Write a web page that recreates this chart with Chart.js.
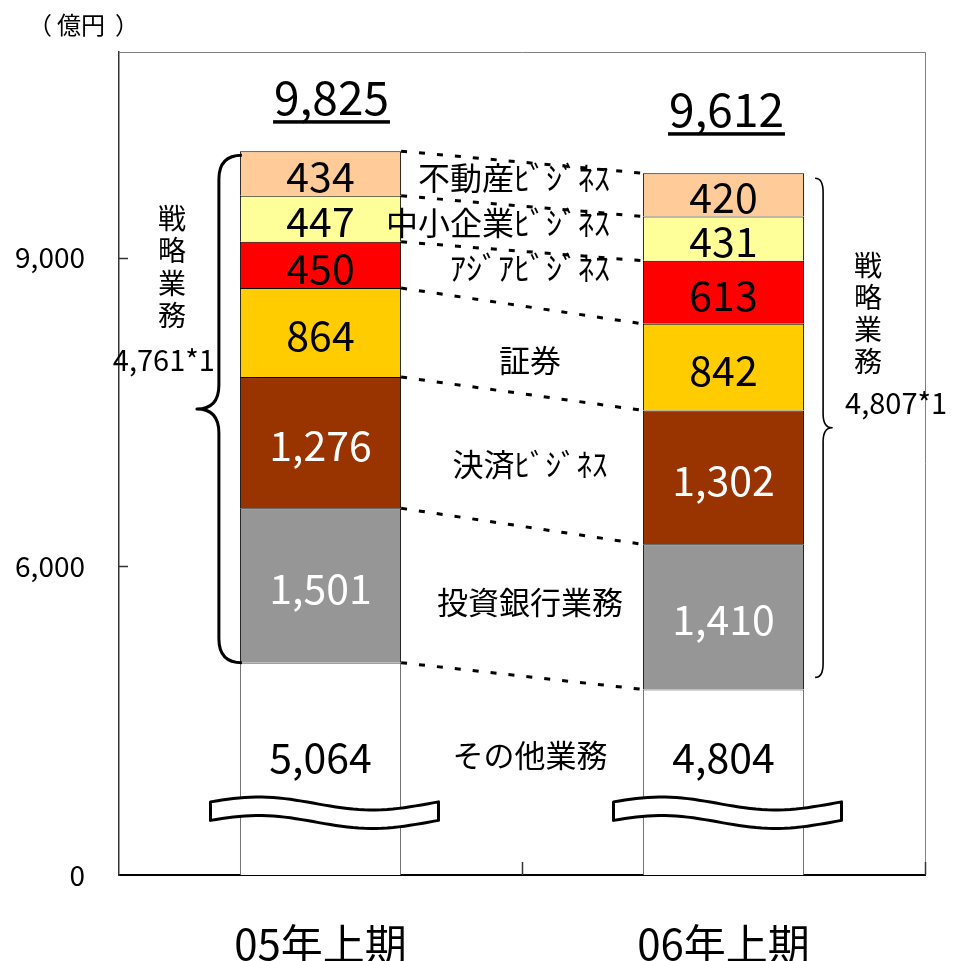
<!DOCTYPE html>
<html>
<head>
<meta charset="utf-8">
<script src="https://cdn.jsdelivr.net/npm/chart.js@4"></script>
<style>
  html, body { margin: 0; padding: 0; background: #fff; }
  #wrap { width: 956px; height: 961px; position: relative; }
</style>
</head>
<body>
<div id="wrap"><canvas id="segChart"></canvas></div>
<script>
const categories = ['05年上期', '06年上期'];
const seriesNames = ['その他業務', '投資銀行業務', '決済ﾋﾞｼﾞﾈｽ', '証券', 'ｱｼﾞｱﾋﾞｼﾞﾈｽ', '中小企業ﾋﾞｼﾞﾈｽ', '不動産ﾋﾞｼﾞﾈｽ'];
const otherBusiness = [5064, 4804];
const investmentBanking = [1501, 1410];
const settlementBusiness = [1276, 1302];
const securities = [864, 842];
const asiaBusiness = [450, 613];
const smeBusiness = [447, 431];
const realEstateBusiness = [434, 420];
const totalLabels = ['9,825', '9,612'];
const strategicLabels = ['4,761*1', '4,807*1'];
const strategicTitle = '戦略業務';
const unitLabel = '（億円）';
// axis is broken: the bottom tick stands for 0
const yTickValues = [3000, 6000, 9000];
const yTickLabels = ['0', '6,000', '9,000'];

const seriesColors = ['#ffffff', '#969696', '#993300', '#ffcc00', '#ff0000', '#ffff99', '#ffcc99'];
const whiteText = [false, true, true, false, false, false, false];
const FONT = "'Noto Sans CJK JP', 'Noto Sans', sans-serif";

const seriesValues = [otherBusiness, investmentBanking, settlementBusiness, securities,
  asiaBusiness, smeBusiness, realEstateBusiness];

function drawBrace(ctx, xEnd, xSpine, xTip, yTop, yBot, r) {
  const yMid = (yTop + yBot) / 2;
  ctx.beginPath();
  ctx.moveTo(xEnd, yTop);
  ctx.quadraticCurveTo(xSpine, yTop, xSpine, yTop + r);
  ctx.lineTo(xSpine, yMid - r);
  ctx.quadraticCurveTo(xSpine, yMid, xTip, yMid);
  ctx.quadraticCurveTo(xSpine, yMid, xSpine, yMid + r);
  ctx.lineTo(xSpine, yBot - r);
  ctx.quadraticCurveTo(xSpine, yBot, xEnd, yBot);
  ctx.stroke();
}

function drawBreak(ctx, cx, yTop) {
  const x0 = cx - 110, x1 = cx + 118, n = 40;
  const top = [], bot = [];
  for (let i = 0; i <= n; i++) {
    const t = i / n;
    const yy = yTop + 6.5 * Math.sin(2 * Math.PI * (t - 0.46));
    top.push([x0 + t * (x1 - x0), yy]);
    bot.push([x0 + t * (x1 - x0), yy + 18.5]);
  }
  ctx.beginPath();
  ctx.moveTo(top[0][0], top[0][1]);
  top.forEach(p => ctx.lineTo(p[0], p[1]));
  for (let i = bot.length - 1; i >= 0; i--) ctx.lineTo(bot[i][0], bot[i][1]);
  ctx.closePath();
  ctx.fillStyle = '#fff';
  ctx.fill();
  ctx.lineWidth = 3;
  ctx.strokeStyle = '#000';
  ctx.lineJoin = 'round';
  ctx.stroke();
}

const annotate = {
  id: 'annotate',
  afterDatasetsDraw(chart) {
    const { ctx, chartArea: ca, scales: { x, y } } = chart;
    const bar = (s, c) => chart.getDatasetMeta(s).data[c].getProps(['x', 'y', 'base', 'width'], true);
    const last = seriesNames.length - 1;
    ctx.save();

    // frame top / right and inner tick marks
    ctx.strokeStyle = '#808080';
    ctx.lineWidth = 1;
    ctx.beginPath();
    ctx.moveTo(ca.left, ca.top + 0.5); ctx.lineTo(ca.right + 0.5, ca.top + 0.5);
    ctx.lineTo(ca.right + 0.5, ca.bottom);
    ctx.stroke();
    ctx.strokeStyle = '#333';
    ctx.lineWidth = 1.5;
    ctx.beginPath();
    yTickValues.slice(1).forEach(v => {
      const py = Math.round(y.getPixelForValue(v)) + 0.5;
      ctx.moveTo(ca.left, py); ctx.lineTo(ca.left + 9, py);
    });
    const midX = (x.getPixelForValue(0) + x.getPixelForValue(1)) / 2;
    [midX, ca.right].forEach(px => {
      ctx.moveTo(Math.round(px) + 0.5, ca.bottom); ctx.lineTo(Math.round(px) + 0.5, ca.bottom - 13);
    });
    ctx.stroke();

    // dashed connectors between segment tops
    ctx.strokeStyle = '#000';
    ctx.lineWidth = 3;
    ctx.setLineDash([6, 12]);
    for (let s = 0; s <= last; s++) {
      const a = bar(s, 0), b = bar(s, 1);
      ctx.beginPath();
      ctx.moveTo(a.x + a.width / 2, a.y);
      ctx.lineTo(b.x - b.width / 2, b.y);
      ctx.stroke();
    }
    ctx.setLineDash([]);

    // break symbols
    categories.forEach((c, ci) => {
      drawBreak(ctx, bar(0, ci).x, ca.bottom - 71.5);
    });

    // values inside the bars
    ctx.textAlign = 'center';
    ctx.textBaseline = 'middle';
    ctx.font = '41px ' + FONT;
    seriesValues.forEach((vals, s) => {
      vals.forEach((v, ci) => {
        const p = bar(s, ci);
        const cy = s === 0 ? ca.bottom - 118 : (p.y + p.base) / 2 + 3;
        ctx.fillStyle = whiteText[s] ? '#fff' : '#000';
        ctx.fillText(v.toLocaleString('en-US'), p.x, cy);
      });
    });

    // series names between the bars
    const shift = [0, 1, 4, 10, -11, -6, -6];
    ctx.fillStyle = '#000';
    seriesNames.forEach((name, s) => {
      const a = bar(s, 0), b = bar(s, 1);
      const mx = (a.x + a.width / 2 + b.x - b.width / 2) / 2 + 8;
      let cy;
      if (s === 0) cy = ca.bottom - 120;
      else cy = ((a.y + a.base) / 2 + (b.y + b.base) / 2) / 2 + shift[s];
      if (s >= 4) {
        ctx.font = '32px ' + FONT;
        ctx.textAlign = 'right';
        ctx.fillText(name, b.x - b.width / 2 - 33, cy);
      } else {
        ctx.font = '31px ' + FONT;
        ctx.textAlign = 'center';
        ctx.fillText(name, mx, cy);
      }
    });

    // totals, underlined
    const totalPos = [{ dx: 11, dy: -36 }, { dx: 3, dy: -46 }];
    ctx.font = '46px ' + FONT;
    ctx.textAlign = 'center';
    ctx.textBaseline = 'alphabetic';
    totalLabels.forEach((t, ci) => {
      const p = bar(last, ci);
      const tx = p.x + totalPos[ci].dx, ty = p.y + totalPos[ci].dy;
      ctx.fillText(t, tx, ty);
      const w = ctx.measureText(t).width + 2;
      ctx.fillRect(tx - w / 2, ty + 5, w, 3.5);
    });

    // braces for the strategic segments
    const lTop = bar(last, 0), lBot = bar(0, 0);
    const rTop = bar(last, 1), rBot = bar(0, 1);
    ctx.lineWidth = 3;
    const lx = lTop.x - lTop.width / 2;
    drawBrace(ctx, lx + 2, lx - 21, lx - 43, lTop.y + 4, lBot.y, 24);
    ctx.lineWidth = 1.6;
    const rx = rTop.x + rTop.width / 2;
    drawBrace(ctx, rx + 11, rx + 19, rx + 28, rTop.y + 5, rBot.y - 12, 14);

    ctx.font = '28px ' + FONT;
    ctx.textAlign = 'center';
    ctx.textBaseline = 'middle';
    [...strategicTitle].forEach((ch, i) => {
      ctx.fillText(ch, lx - 68, 218 + i * 32.5);
      ctx.fillText(ch, rx + 64, 265 + i * 32);
    });
    ctx.font = '29px ' + FONT;
    ctx.fillText(strategicLabels[0], lx - 76, 360);
    ctx.textAlign = 'left';
    ctx.fillText(strategicLabels[1], rx + 41, 403);

    // unit label, spaced out like the original
    ctx.font = '24px ' + FONT;
    ctx.textAlign = 'center';
    const unitChars = [...unitLabel];
    ctx.fillText(unitChars[0], 40, 25);
    ctx.fillText(unitChars.slice(1, -1).join(''), 81, 25);
    ctx.fillText(unitChars[unitChars.length - 1], 127, 25);

    ctx.restore();
  }
};

new Chart(document.getElementById('segChart'), {
  type: 'bar',
  data: {
    labels: categories,
    datasets: seriesValues.map((vals, s) => ({
      label: seriesNames[s],
      data: vals,
      backgroundColor: seriesColors[s],
      borderColor: s === 0 ? '#555' : '#000',
      borderWidth: 1,
      barPercentage: 0.4,
      categoryPercentage: 1.0
    }))
  },
  options: {
    responsive: true,
    maintainAspectRatio: false,
    animation: false,
    layout: { padding: { top: 52, right: 31, left: 0, bottom: 0 } },
    plugins: {
      legend: { display: false },
      tooltip: { enabled: false }
    },
    scales: {
      x: {
        stacked: true,
        grid: { display: false, drawTicks: false },
        border: { display: true, color: '#000', width: 2 },
        ticks: { color: '#000', padding: 44, font: { family: FONT, size: 42 } },
        afterFit(scale) { scale.height = 86; }
      },
      y: {
        stacked: true,
        min: 3000,
        max: 11000,
        grid: { display: false, drawTicks: false },
        border: { display: true, color: '#333', width: 1.5 },
        afterBuildTicks(scale) { scale.ticks = yTickValues.map(v => ({ value: v })); },
        ticks: {
          color: '#000',
          padding: 34,
          font: { family: FONT, size: 28 },
          callback: (v) => yTickLabels[yTickValues.indexOf(v)] ?? ''
        },
        afterFit(scale) { scale.width = 119; }
      }
    }
  },
  plugins: [annotate]
});
</script>
</body>
</html>
